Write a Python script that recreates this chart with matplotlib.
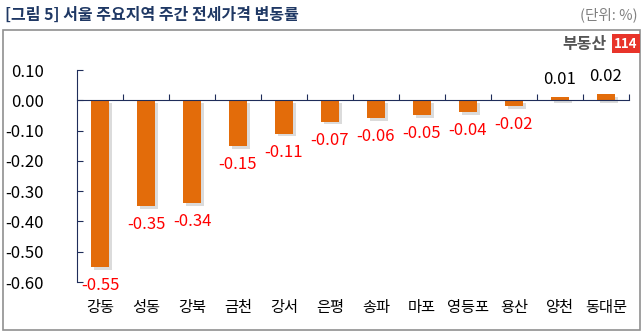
import numpy as np
import matplotlib.pyplot as plt
import matplotlib.patheffects as pe
from matplotlib.patches import Rectangle

plt.rcParams['font.family'] = ['Noto Sans CJK KR', 'DejaVu Sans']

regions = ['강동', '성동', '강북', '금천', '강서', '은평', '송파', '마포', '영등포', '용산', '양천', '동대문']
changes = [-0.55, -0.35, -0.34, -0.15, -0.11, -0.07, -0.06, -0.05, -0.04, -0.02, 0.01, 0.02]
yticks = [0.10, 0.00, -0.10, -0.20, -0.30, -0.40, -0.50, -0.60]

navy = '#1F2D5A'
orange = '#E36C0A'

fig = plt.figure(figsize=(6.44, 3.32), dpi=100)

# title + frame
fig.text(0.008, 0.955, '[그림 5] 서울 주요지역 주간 전세가격 변동률', fontsize=11.5,
         fontweight='bold', color='#1F3864', va='center', ha='left')
fig.text(0.99, 0.955, '(단위: %)', fontsize=10.5, color='#808080', va='center', ha='right')
fig.patches.append(Rectangle((0.005, 0.006), 0.989, 0.905, transform=fig.transFigure,
                             fill=False, edgecolor='#909090', linewidth=1.2))

# logo
fig.text(0.942, 0.868, '부동산', fontsize=11.5, fontweight='bold', color='#555555',
         va='center', ha='right')
fig.text(0.972, 0.868, '114', fontsize=9.5, fontweight='bold', color='white', va='center',
         ha='center', bbox=dict(boxstyle='square,pad=0.2', facecolor='#E8342A', edgecolor='none'))

ax = fig.add_axes([0.1196, 0.1506, 0.857, 0.6384])
x = np.arange(len(regions))
bars = ax.bar(x, changes, width=0.4, color=orange, zorder=3)
for b in bars:
    b.set_path_effects([pe.SimplePatchShadow(offset=(2, -2), shadow_rgbFace='#888888', alpha=0.3),
                        pe.Normal()])

for xi, v in zip(x, changes):
    if v < 0:
        ax.text(xi, v - 0.033, f'{v:.2f}', ha='center', va='top', fontsize=12, color='#FF0000')
    else:
        ax.text(xi, v + 0.03, f'{v:.2f}', ha='center', va='bottom', fontsize=12, color='black')

ax.set_xlim(-0.5, len(regions) - 0.5)
ax.set_ylim(-0.60, 0.10)
ax.set_yticks(yticks)
ax.set_yticklabels([f'{t:.2f}' for t in yticks], fontsize=12)
ax.tick_params(axis='y', direction='in', length=4, color=navy, pad=24)

ax.spines['top'].set_visible(False)
ax.spines['right'].set_visible(False)
ax.spines['left'].set_color(navy)
ax.spines['bottom'].set_color(navy)
ax.spines['bottom'].set_position(('data', 0))
ax.spines['bottom'].set_zorder(4)
ax.set_xticks(np.arange(0.5, len(regions), 1.0))
ax.set_xticklabels([])
ax.tick_params(axis='x', direction='in', length=4, color=navy)

for xi, r in zip(x, regions):
    ax.text(xi, -0.655, r, ha='center', va='top', fontsize=11, color='black')

fig.savefig('out.png', dpi=100)
